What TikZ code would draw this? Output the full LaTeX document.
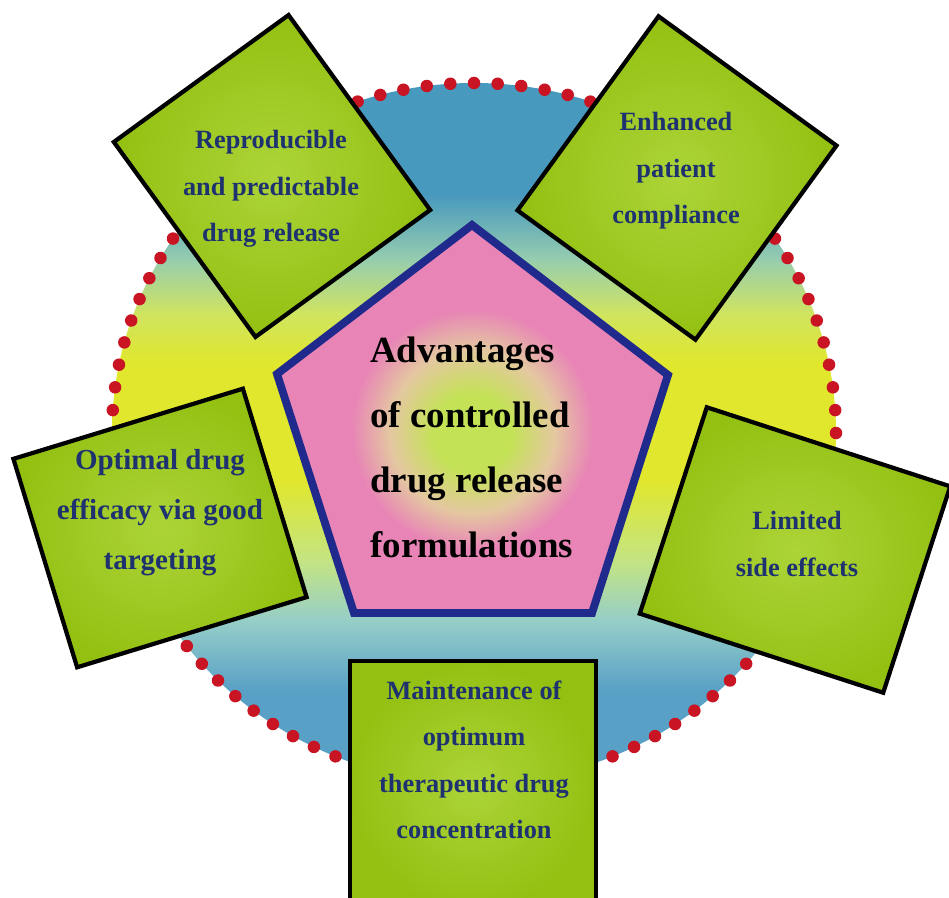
\documentclass[tikz,border=0pt]{standalone}
\usepackage{fontspec}
\setmainfont{Liberation Serif}
\usepackage{xcolor}
\usepackage{tikz}
\usetikzlibrary{calc}
\definecolor{discblue}{RGB}{72,153,190}
\definecolor{discteal}{RGB}{150,205,175}
\definecolor{disclime}{RGB}{208,228,95}
\definecolor{discyellow}{RGB}{224,231,45}
\definecolor{discpale}{RGB}{196,228,130}
\definecolor{disccyan}{RGB}{150,206,200}
\definecolor{discbottom}{RGB}{88,160,198}
\definecolor{dotred}{RGB}{200,20,35}
\definecolor{boxgreen}{RGB}{148,192,18}
\definecolor{boxlight}{RGB}{172,212,56}
\definecolor{textnavy}{RGB}{30,50,112}
\definecolor{pentapink}{RGB}{232,132,182}
\definecolor{pentaglow}{RGB}{196,226,86}
\definecolor{pentamid}{RGB}{228,200,160}
\definecolor{pentaedge}{RGB}{32,42,140}
% Disc: blue at the rim, yellow band across the middle
\pgfdeclareverticalshading{discfade}{100bp}{color(0bp)=(discbottom); color(25bp)=(discbottom);
  color(31.6bp)=(discbottom); color(36.6bp)=(disccyan); color(40.9bp)=(discpale);
  color(46.6bp)=(discyellow); color(55bp)=(discyellow); color(58.5bp)=(disclime);
  color(62.4bp)=(discteal); color(67bp)=(discblue); color(100bp)=(discblue)}
% Pentagon: pink with a lime glow in the middle
\pgfdeclareradialshading{pentaglowshade}{\pgfpoint{0bp}{-2bp}}{color(0bp)=(pentaglow);
  color(5bp)=(pentaglow); color(10.5bp)=(pentamid); color(15.5bp)=(pentapink); color(50bp)=(pentapink)}

\begin{document}
\begin{tikzpicture}[x=0.02cm, y=-0.02cm,
    benefit/.style={draw=black, line width=2.4pt, inner color=boxlight, outer color=boxgreen, inner sep=0pt},
    benefittext/.style={text=textnavy, align=center, inner sep=0pt, font=\bfseries\fontsize{15}{26.5}\selectfont}]
    \useasboundingbox (0,0) rectangle (949,898);
    \fill[white] (0,0) rectangle (949,898);
    \clip (0,0) rectangle (949,898);

    % Background disc with its dotted rim
    \coordinate (disc) at (474,433);
    \shade[shading=discfade] (disc) ellipse (362 and 350);
    \foreach \a in {0,3.75,...,356.25}
        \fill[dotred] ($(disc)+(\a:362 and 350)$) circle (0.125cm);

    % Central pentagon
    \shadedraw[shading=pentaglowshade, draw=pentaedge, line width=4.5pt, line join=miter]
        (472,225) -- (668,375) -- (592,613) -- (354,613) -- (277,374) -- cycle;
    \node[anchor=west, inner sep=0pt, align=left, font=\bfseries\fontsize{21}{37}\selectfont] (title) at (370,447)
        {Advantages\\of controlled\\drug release\\formulations};

    % Benefit boxes, tilted round the pentagon
    \node[benefit, rotate=36, minimum width=4.32cm, minimum height=4.82cm] (repro) at (272,176) {};
    \node[benefittext] (reprotext) at (271,189) {Reproducible\\and predictable\\drug release};

    \node[benefit, rotate=-36, minimum width=4.4cm, minimum height=4.8cm] (compliance) at (677,178) {};
    \node[benefittext] (compliancetext) at (676,171) {Enhanced\\patient\\compliance};

    \node[benefit, rotate=17, minimum width=4.8cm, minimum height=4.36cm] (efficacy) at (160,528) {};
    \node[benefittext, font=\bfseries\fontsize{16.5}{28.5}\selectfont] (efficacytext) at (160,513)
        {Optimal drug\\efficacy via good\\targeting};

    \node[benefit, rotate=-18, minimum width=5.12cm, minimum height=4.34cm] (sideeffects) at (795,550) {};
    \node[benefittext] (sideeffectstext) at (797,544) {Limited\\side effects};

    \node[benefit, anchor=north, minimum width=4.92cm, minimum height=5cm] (maintenance) at (473,659) {};
    \node[benefittext] (maintenancetext) at (474,760) {Maintenance of\\optimum\\therapeutic drug\\concentration};
\end{tikzpicture}
\end{document}
